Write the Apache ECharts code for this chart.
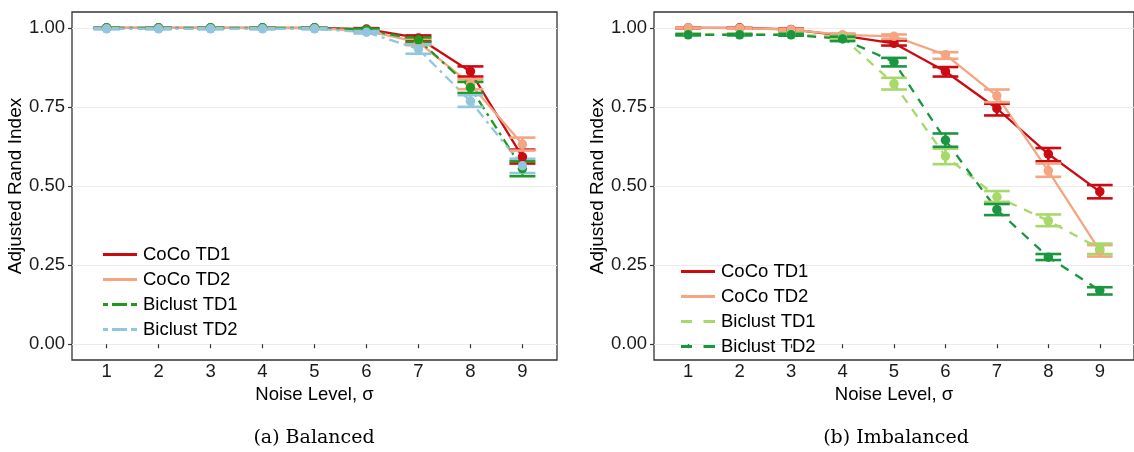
<!DOCTYPE html>
<html><head><meta charset="utf-8">
<script src="https://cdn.jsdelivr.net/npm/echarts@6/dist/echarts.min.js"></script>
<style>html,body{margin:0;padding:0;background:#fff}#c{width:1134px;height:452px}</style>
</head><body><div id="c"></div>
<script>
// ---------- data ----------
const noiseLevels = [1, 2, 3, 4, 5, 6, 7, 8, 9];
const yTickValues = [0, 0.25, 0.5, 0.75, 1];
const seriesNames = ['CoCo TD1', 'CoCo TD2', 'Biclust TD1', 'Biclust TD2'];
const panelCaptions = ['(a) Balanced', '(b) Imbalanced'];

// (a) Balanced
const balCocoTD1    = [1.000, 1.000, 1.000, 1.000, 1.000, 0.996, 0.968, 0.862, 0.592];
const balCocoTD1Lo  = [0.999, 0.999, 0.999, 0.999, 0.999, 0.993, 0.958, 0.846, 0.571];
const balCocoTD1Hi  = [1.000, 1.000, 1.000, 1.000, 1.000, 0.999, 0.976, 0.878, 0.615];
const balCocoTD2    = [1.000, 1.000, 1.000, 0.999, 0.999, 0.990, 0.955, 0.822, 0.632];
const balCocoTD2Lo  = [0.999, 0.999, 0.999, 0.998, 0.998, 0.985, 0.945, 0.806, 0.612];
const balCocoTD2Hi  = [1.000, 1.000, 1.000, 1.000, 1.000, 0.995, 0.965, 0.838, 0.653];
const balBicTD1     = [1.000, 1.000, 1.000, 1.000, 1.000, 0.994, 0.962, 0.811, 0.555];
const balBicTD1Lo   = [0.999, 0.999, 0.999, 0.999, 0.999, 0.991, 0.954, 0.794, 0.531];
const balBicTD1Hi   = [1.000, 1.000, 1.000, 1.000, 1.000, 0.997, 0.970, 0.829, 0.578];
const balBicTD2     = [0.997, 0.997, 0.997, 0.997, 0.997, 0.986, 0.933, 0.768, 0.564];
const balBicTD2Lo   = [0.995, 0.995, 0.995, 0.995, 0.995, 0.982, 0.918, 0.750, 0.541];
const balBicTD2Hi   = [0.999, 0.999, 0.999, 0.999, 0.999, 0.990, 0.948, 0.787, 0.586];

// (b) Imbalanced
const imbCocoTD1    = [1.000, 1.000, 0.995, 0.975, 0.951, 0.862, 0.745, 0.601, 0.482];
const imbCocoTD1Lo  = [0.998, 0.998, 0.992, 0.970, 0.944, 0.846, 0.723, 0.578, 0.461];
const imbCocoTD1Hi  = [1.000, 1.000, 0.998, 0.980, 0.960, 0.876, 0.760, 0.620, 0.503];
const imbCocoTD2    = [1.000, 0.999, 0.994, 0.978, 0.973, 0.915, 0.785, 0.548, 0.296];
const imbCocoTD2Lo  = [0.998, 0.997, 0.991, 0.974, 0.965, 0.902, 0.765, 0.529, 0.277];
const imbCocoTD2Hi  = [1.000, 1.000, 0.997, 0.982, 0.979, 0.923, 0.805, 0.571, 0.313];
const imbBicTD1     = [0.980, 0.980, 0.980, 0.970, 0.823, 0.594, 0.466, 0.390, 0.302];
const imbBicTD1Lo   = [0.978, 0.978, 0.977, 0.965, 0.805, 0.569, 0.450, 0.373, 0.285];
const imbBicTD1Hi   = [0.982, 0.982, 0.983, 0.975, 0.842, 0.618, 0.484, 0.410, 0.318];
const imbBicTD2     = [0.978, 0.978, 0.978, 0.965, 0.892, 0.645, 0.425, 0.275, 0.170];
const imbBicTD2Lo   = [0.976, 0.976, 0.975, 0.958, 0.878, 0.624, 0.408, 0.266, 0.157];
const imbBicTD2Hi   = [0.980, 0.980, 0.981, 0.972, 0.905, 0.666, 0.443, 0.285, 0.180];

// ---------- styles ----------
const FONT = '"Liberation Sans", Arial, Helvetica, sans-serif';
const RED = '#cc0a12', SALMON = '#f4a582', GREEN = '#1f9a1f', LBLUE = '#92c5de';
const LGREEN = '#a6d96a', DGREEN = '#1a9641';
const DOTDASH = [3, 5, 10, 5];
const DASHED = [9, 8];

const panels = [
  { mean: [balCocoTD1, balCocoTD2, balBicTD1, balBicTD2],
    lo: [balCocoTD1Lo, balCocoTD2Lo, balBicTD1Lo, balBicTD2Lo],
    hi: [balCocoTD1Hi, balCocoTD2Hi, balBicTD1Hi, balBicTD2Hi],
    colors: [RED, SALMON, GREEN, LBLUE],
    dash: ['solid', 'solid', DOTDASH, DOTDASH],
    left: 72, legendLeft: 103, legendTop: 245 },
  { mean: [imbCocoTD1, imbCocoTD2, imbBicTD1, imbBicTD2],
    lo: [imbCocoTD1Lo, imbCocoTD2Lo, imbBicTD1Lo, imbBicTD2Lo],
    hi: [imbCocoTD1Hi, imbCocoTD2Hi, imbBicTD1Hi, imbBicTD2Hi],
    colors: [RED, SALMON, LGREEN, DGREEN],
    dash: ['solid', 'solid', DASHED, DASHED],
    left: 654, legendLeft: 681, legendTop: 262 }
];

const ICON_SOLID = 'path://M0,0H34V3H0Z';
const ICON_DASHED = 'path://M0,0H11V3H0Z M22.5,0H34V3H22.5Z';
const ICON_DOTDASH = 'path://M0,0H5V3H0Z M9,0H24V3H9Z M28,0H34V3H28Z';

const grids = [], xAxes = [], yAxes = [], series = [], legends = [], graphics = [];

panels.forEach((p, pi) => {
  grids.push({ left: p.left, top: 12, width: 485, height: 348, show: true,
    borderColor: '#333333', borderWidth: 1.3, backgroundColor: '#ffffff', containLabel: false });
  xAxes.push({ type: 'value', gridIndex: pi, min: 0.335, max: 9.665,
    name: 'Noise Level, σ', nameLocation: 'middle', nameGap: 17,
    nameTextStyle: { fontFamily: FONT, fontSize: 18.5, color: '#000' },
    axisLine: { show: false },
    axisTick: { show: true, length: 4, lineStyle: { color: '#333', width: 1.2 }, customValues: noiseLevels },
    axisLabel: { fontFamily: FONT, fontSize: 18.5, color: '#1a1a1a', margin: 2, customValues: noiseLevels,
      formatter: v => String(v) },
    splitLine: { show: false } });
  yAxes.push({ type: 'value', gridIndex: pi, min: -0.05, max: 1.05,
    name: 'Adjusted Rand Index', nameLocation: 'middle', nameGap: 44, nameRotate: 90,
    nameTextStyle: { fontFamily: FONT, fontSize: 19, color: '#000' },
    axisLine: { show: false },
    axisTick: { show: true, length: 4, lineStyle: { color: '#333', width: 1.2 }, customValues: yTickValues },
    axisLabel: { fontFamily: FONT, fontSize: 18.5, color: '#1a1a1a', margin: 7, customValues: yTickValues,
      formatter: v => v.toFixed(2) },
    splitLine: { show: true, lineStyle: { color: '#ebebeb', width: 1.2 } } });

  const legendData = [];
  seriesNames.forEach((name, si) => {
    const col = p.colors[si];
    const lineData = noiseLevels.map((x, i) => [x, p.mean[si][i]]);
    series.push({ type: 'line', name: name, xAxisIndex: pi, yAxisIndex: pi, z: 2,
      data: lineData, symbol: 'none', showSymbol: false, smooth: false, animation: false,
      lineStyle: { color: col, width: 2.3, type: p.dash[si] }, itemStyle: { color: col } });
    series.push({ type: 'custom', name: name + ' err', xAxisIndex: pi, yAxisIndex: pi, z: 3,
      animation: false, silent: true,
      data: noiseLevels.map((x, i) => [x, p.lo[si][i], p.hi[si][i]]),
      encode: { x: 0, y: [1, 2] },
      renderItem: (params, api) => {
        const x = api.value(0);
        const a = api.coord([x, api.value(1)]);
        const b = api.coord([x, api.value(2)]);
        const half = api.size([0.25, 0])[0];
        const st = { stroke: col, lineWidth: 2.6 };
        return { type: 'group', children: [
          { type: 'line', shape: { x1: a[0], y1: a[1], x2: b[0], y2: b[1] }, style: st },
          { type: 'line', shape: { x1: a[0] - half, y1: a[1], x2: a[0] + half, y2: a[1] }, style: st },
          { type: 'line', shape: { x1: b[0] - half, y1: b[1], x2: b[0] + half, y2: b[1] }, style: st }
        ]};
      } });
    series.push({ type: 'scatter', name: name + ' pts', xAxisIndex: pi, yAxisIndex: pi, z: 4,
      data: lineData, symbol: 'circle', symbolSize: 9.5, animation: false, silent: true,
      itemStyle: { color: col, opacity: 1 } });
    const icon = p.dash[si] === 'solid' ? ICON_SOLID : (p.dash[si] === DASHED ? ICON_DASHED : ICON_DOTDASH);
    legendData.push({ name: name, icon: icon, itemStyle: { color: col, borderWidth: 0, opacity: 1 } });
  });
  legends.push({ orient: 'vertical', left: p.legendLeft, top: p.legendTop, padding: 0,
    itemWidth: 34, itemHeight: 3, itemGap: 6, selectedMode: false,
    textStyle: { fontFamily: FONT, fontSize: 18.5, color: '#000', lineHeight: 18, padding: [0, 0, 0, 1] },
    data: legendData });
  graphics.push({ type: 'text', x: p.left + 242, y: 438,
    style: { text: panelCaptions[pi], fontFamily: '"DejaVu Serif", "Liberation Serif", serif',
      fontSize: 19, fill: '#000', textAlign: 'center', textVerticalAlign: 'middle' } });
});

const chart = echarts.init(document.getElementById('c'), null, { renderer: 'canvas' });
chart.setOption({
  animation: false,
  backgroundColor: '#ffffff',
  grid: grids, xAxis: xAxes, yAxis: yAxes, series: series, legend: legends, graphic: graphics
});
</script></body></html>
